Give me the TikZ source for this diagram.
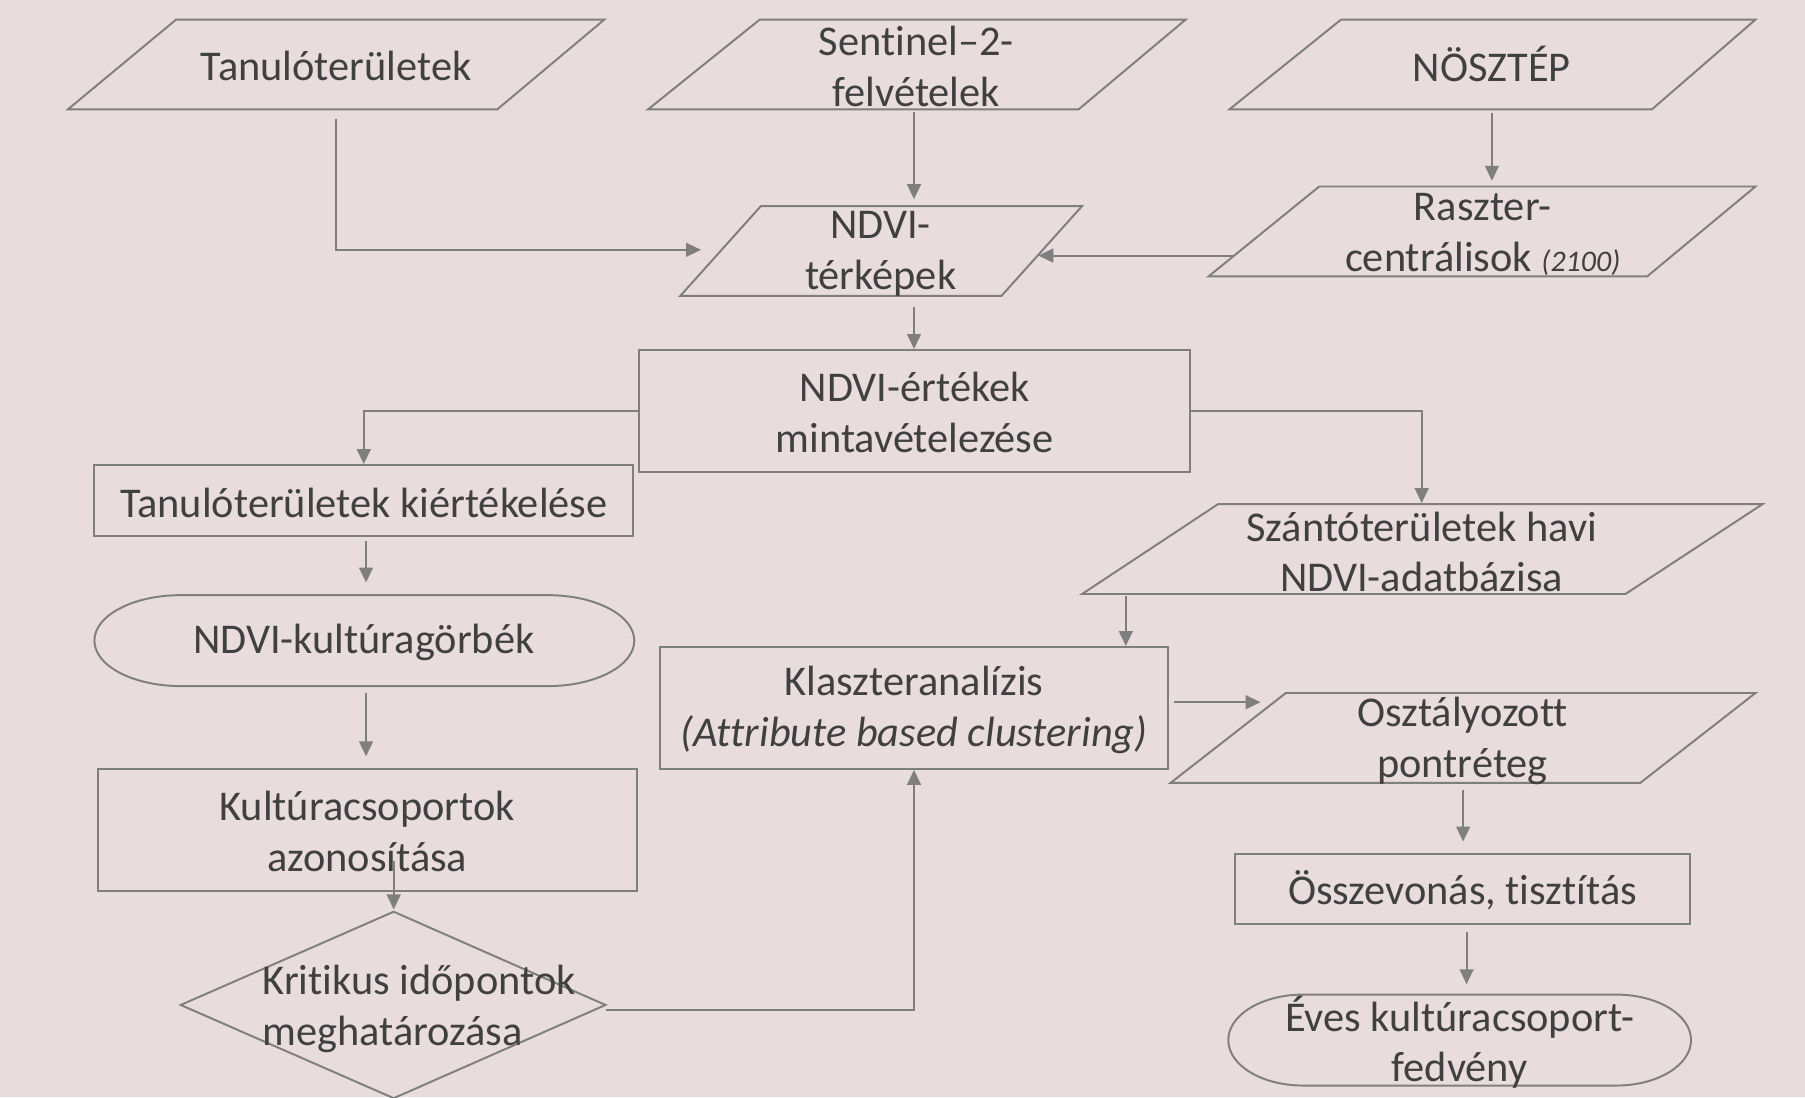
\documentclass[tikz,border=0pt]{standalone}
\usepackage{fontspec}
\setmainfont{Carlito}[Ligatures={NoCommon}]
\usetikzlibrary{arrows.meta}
\definecolor{bgc}{HTML}{E9DCDC}
\definecolor{linec}{HTML}{7F7F7F}
\definecolor{txtc}{HTML}{404040}
\tikzset{
  shp/.style={draw=linec, line width=1.7pt, line join=miter},
  txt/.style={inner sep=0pt, align=center, text=txtc, font=\fontsize{36.8}{44}\selectfont},
  box/.style={draw=linec, line width=1.7pt},
  arr/.style={draw=linec, line width=1.7pt, -{Triangle[length=13pt,width=12pt]}},
}
\begin{document}
\begin{tikzpicture}[x=1pt, y=-1pt]
\fill[bgc] (0,0) rectangle (1568,953);
\useasboundingbox (0,0) rectangle (1568,953);

% parallelograms
\draw[shp] (153,17) -- (525,17) -- (432,95) -- (59,95) -- cycle;
\node[txt] (tan) at (292,57.5) {Tanulóterületek};

\draw[shp] (660,17) -- (1030,17) -- (937,95) -- (563,95) -- cycle;
\node[txt] (sen) at (796,57.5) {Sentinel–2-\\felvételek};

\draw[shp] (1165,17) -- (1525,17) -- (1435,95) -- (1068,95) -- cycle;
\node[txt] (nos) at (1296,55.5) {NÖSZTÉP};

\draw[shp] (661,179) -- (940,179) -- (870,257) -- (591,257) -- cycle;
\node[txt] (ndvit) at (765,220.5) {NDVI-\\térképek};

\draw[shp] (1146,162) -- (1525,162) -- (1431,240) -- (1050,240) -- cycle;
\node[txt] (rasz) at (1288,203.5) {Raszter-\\centrálisok {\itshape\fontsize{26}{44}\selectfont (2100)}};

\draw[shp] (1058,438) -- (1531,438) -- (1412,516) -- (940,516) -- cycle;
\node[txt] (szant) at (1235,479.5) {Szántóterületek havi\\NDVI-adatbázisa};

\draw[shp] (1117,602) -- (1525,602) -- (1425,680) -- (1017,680) -- cycle;
\node[txt] (oszt) at (1270.5,643.5) {Osztályozott\\pontréteg};

% rectangles
\node[box, minimum width=479pt, minimum height=106pt] (ndvier) at (794.5,357) {};
\node[txt] (ndviert) at (794.5,358.5) {NDVI-értékek\\mintavételezése};
\node[box, minimum width=468pt, minimum height=62pt] (taneval) at (316,435) {};
\node[txt] (tanevalt) at (316,436.5) {Tanulóterületek kiértékelése};
\node[box, minimum width=468pt, minimum height=106pt] (kult) at (319,721) {};
\node[txt] (kultt) at (319,722.5) {Kultúracsoportok\\azonosítása};
\node[box, minimum width=442pt, minimum height=106pt] (klaszt) at (794,615) {};
\node[txt] (klasztt) at (794,616.5) {Klaszteranalízis\\\textit{(Attribute based clustering)}};
\node[box, minimum width=395pt, minimum height=61pt] (ossz) at (1270.5,772.5) {};
\node[txt] (osszt) at (1270.5,773.5) {Összevonás, tisztítás};

% stadiums
\draw[shp] (157,517) -- (476,517) arc[start angle=-90, end angle=90, x radius=75, y radius=39.5]
  -- (157,596) arc[start angle=90, end angle=270, x radius=75, y radius=39.5] -- cycle;
\node[txt] (kgorb) at (316,558.5) {NDVI-kultúragörbék};

\draw[shp] (1132,864) -- (1404,864) arc[start angle=-90, end angle=90, x radius=65, y radius=39.5]
  -- (1132,943) arc[start angle=90, end angle=270, x radius=65, y radius=39.5] -- cycle;
\node[txt] (eves) at (1268,905.5) {Éves kultúracsoport-\\fedvény};

% diamond
\draw[shp] (342,792) -- (526,873) -- (342,954) -- (157,873) -- cycle;
\node[txt, anchor=west, align=left] (krit) at (228,876.5) {Kritikus időpontok\\meghatározása};

% connector endpoints
\coordinate (c1a) at (292,103);
\coordinate (c1b) at (609,217);
\coordinate (c2a) at (794,97);
\coordinate (c2b) at (794,173);
\coordinate (c3a) at (1296,98);
\coordinate (c3b) at (1296,157);
\coordinate (c4a) at (1072,222);
\coordinate (c4b) at (902,222);
\coordinate (c5a) at (794,267);
\coordinate (c7b) at (1235,437);
\coordinate (c8a) at (318,470);
\coordinate (c8b) at (318,506);
\coordinate (c9a) at (318,602);
\coordinate (c9b) at (318,657);
\coordinate (c10a) at (342,748);
\coordinate (c10b) at (342,790);
\coordinate (c11a) at (526,877);
\coordinate (c12a) at (978,518);
\coordinate (c13a) at (1020,610);
\coordinate (c13b) at (1095,610);
\coordinate (c14a) at (1271,686);
\coordinate (c14b) at (1271,731);
\coordinate (c15a) at (1274,810);
\coordinate (c15b) at (1274,855);

% connectors
\draw[arr] (c1a) |- (c1b);
\draw[arr] (c2a) -- (c2b);
\draw[arr] (c3a) -- (c3b);
\draw[arr] (c4a) -- (c4b);
\draw[arr] (c5a) -- (c5a |- ndvier.north);
\draw[arr] (ndvier.west) -| (taneval.north);
\draw[arr] (ndvier.east) -| (c7b);
\draw[arr] (c8a) -- (c8b);
\draw[arr] (c9a) -- (c9b);
\draw[arr] (c10a) -- (c10b);
\draw[arr] (c11a) -| (klaszt.south);
\draw[arr] (c12a) -- (c12a |- klaszt.north);
\draw[arr] (c13a) -- (c13b);
\draw[arr] (c14a) -- (c14b);
\draw[arr] (c15a) -- (c15b);
\end{tikzpicture}
\end{document}
